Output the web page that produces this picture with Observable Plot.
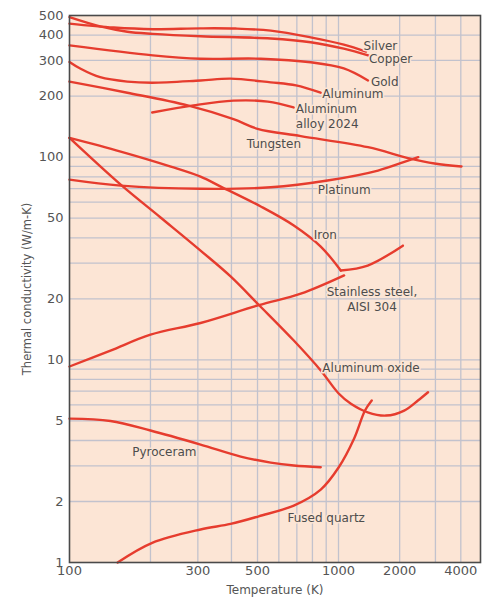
<!DOCTYPE html>
<html>
<head>
<meta charset="utf-8">
<script src="https://cdn.jsdelivr.net/npm/d3@7"></script>
<script src="https://cdn.jsdelivr.net/npm/@observablehq/plot@0.6"></script>
<style>
  html, body { margin: 0; padding: 0; background: #ffffff; }
  svg { display: block; }
</style>
</head>
<body>
<script>
// ---- Data: [Temperature (K), Thermal conductivity (W/m-K)] ----
const silver = [[100,456],[146,436],[204,428],[307,432],[414,431],[560,421],[788,390],[1062,359],[1365,332]];
const copper = [[100,491],[130,442],[164,416],[204,406],[307,395],[560,385],[788,369],[1062,343],[1412,317]];
const gold = [[100,356],[204,318],[307,306],[514,306],[788,294],[1062,274],[1397,239]];
const aluminum = [[100,295],[110,273],[130,248],[164,236],[203,233],[307,239],[397,244],[560,234],[695,226],[858,208]];
const alloy2024 = [[203,166],[289,180],[407,190],[546,188],[681,176]];
const tungsten = [[100,236],[164,208],[275,180],[407,154],[500,138],[724,127],[1397,112],[2200,99],[2971,93],[4031,90]];
const platinum = [[100,77.5],[155,72.4],[307,69.8],[560,71],[910,76.7],[1565,85.9],[2200,96.2],[2470,100]];
const iron = [[100,124.5],[155,106.6],[238,89.9],[307,80.2],[365,71.6],[514,57.1],[682,46.0],[859,36.2],[1026,27.6]];
const ironHighT = [[1026,27.6],[1392,29.2],[2074,36.6]];
const stainless = [[100,9.27],[142,11.1],[200,13.3],[307,15.2],[505,18.6],[724,21.2],[1066,26.1]];
const aluminumOxide = [[100,124.5],[155,73.2],[218,50.4],[307,34.6],[397,25.8],[505,18.7],[682,12.45],[859,8.86],[1002,6.82],[1151,6.07],[1392,5.51],[1714,5.31],[2105,5.62],[2460,6.3],[2759,6.92]];
const pyroceram = [[100,5.13],[142,4.99],[200,4.48],[307,3.82],[433,3.33],[560,3.11],[682,3.01],[859,2.95]];
const fusedQuartz = [[151,1.0],[203,1.25],[307,1.455],[397,1.55],[505,1.69],[682,1.91],[859,2.29],[1003,2.95],[1194,4.09],[1350,5.62],[1457,6.3]];

const seriesNames = ["Silver","Copper","Gold","Aluminum","Aluminum alloy 2024","Tungsten","Platinum","Iron","Iron (high T)","Stainless steel","Aluminum oxide","Pyroceram","Fused quartz"];
const seriesData = [silver, copper, gold, aluminum, alloy2024, tungsten, platinum, iron, ironHighT, stainless, aluminumOxide, pyroceram, fusedQuartz];

// Curve labels (anchored at their left edge) : text, T, k
const labelTexts = ["Silver","Copper","Gold","Aluminum","Aluminum\nalloy 2024","Tungsten","Platinum","Iron","Aluminum oxide","Pyroceram","Fused quartz"];
const labelT = [1329,1412,1445,871,694,456,837,809,871,171,646];
const labelK = [355,308,236,206,159.5,116.7,69.2,41.5,9.21,3.55,1.677];
// Centered label
const centerLabelTexts = ["Stainless steel,\nAISI 304"];
const centerLabelT = [1462];
const centerLabelK = [20.07];

// Axes
const xTicks = [100,300,500,1000,2000,4000];
const yTicks = [1,2,5,10,20,50,100,200,300,400,500];
const xGrid = [200,300,400,500,600,700,800,900,1000,2000,3000,4000];
const yGrid = [2,3,4,5,6,7,8,9,10,20,30,40,50,60,70,80,90,100,200,300,400];
const xTitle = "Temperature (K)";
const yTitle = "Thermal conductivity (W/m-K)";

// ---- Build tables ----
const rows = [];
seriesData.forEach((s, i) => s.forEach(([T, k]) => rows.push({material: seriesNames[i], T, k})));
const labels = labelTexts.map((t, i) => ({text: t, T: labelT[i], k: labelK[i]}));
const centerLabels = centerLabelTexts.map((t, i) => ({text: t, T: centerLabelT[i], k: centerLabelK[i]}));

const bg = "#fce5d5";
const red = "#e63c2e";
const gridColor = "#c2c2cd";
const textColor = "#4d4d4d";

const chart = Plot.plot({
  width: 482,
  height: 601,
  marginLeft: 69,
  marginRight: 2,
  marginTop: 15,
  marginBottom: 39,
  style: {background: "#ffffff", fontFamily: "DejaVu Sans, sans-serif", fontSize: "13px", color: "#555"},
  x: {type: "log", domain: [100, 1000, 5000], range: [69, 338, 480]},
  y: {type: "log", domain: [1, 500]},
  marks: [
    Plot.frame({fill: bg, stroke: null}),
    Plot.gridX(xGrid, {stroke: gridColor, strokeOpacity: 1, strokeWidth: 1.3}),
    Plot.gridY(yGrid, {stroke: gridColor, strokeOpacity: 1, strokeWidth: 1.3}),
    Plot.line(rows, {x: "T", y: "k", z: "material", stroke: red, strokeWidth: 2.4, curve: "catmull-rom"}),
    Plot.text(labels, {x: "T", y: "k", text: "text", textAnchor: "start", fill: textColor, fontSize: 12, lineHeight: 1.25, stroke: bg, strokeWidth: 3}),
    Plot.text(centerLabels, {x: "T", y: "k", text: "text", textAnchor: "middle", fill: textColor, fontSize: 12, lineHeight: 1.3, stroke: bg, strokeWidth: 3}),
    Plot.frame({stroke: "#4a4a4a", strokeWidth: 1.6}),
    Plot.axisX(xTicks, {anchor: "bottom", ticks: 1000, tickSize: 0, tickPadding: 3, tickFormat: d => String(d), label: null, fontSize: 13, fill: "#555"}),
    Plot.axisY(yTicks, {anchor: "left", ticks: 1000, tickSize: 0, tickPadding: 6, tickFormat: d => String(d), label: null, fontSize: 13, fill: "#555"}),
    Plot.text([xTitle], {frameAnchor: "bottom", lineAnchor: "middle", textAnchor: "middle", dy: 28, text: d => d, fontSize: 12, fill: "#555"}),
    Plot.text([yTitle], {frameAnchor: "left", lineAnchor: "middle", textAnchor: "middle", dx: -42, rotate: -90, text: d => d, fontSize: 11.5, fill: "#555"})
  ]
});
document.body.appendChild(chart);
</script>
</body>
</html>
